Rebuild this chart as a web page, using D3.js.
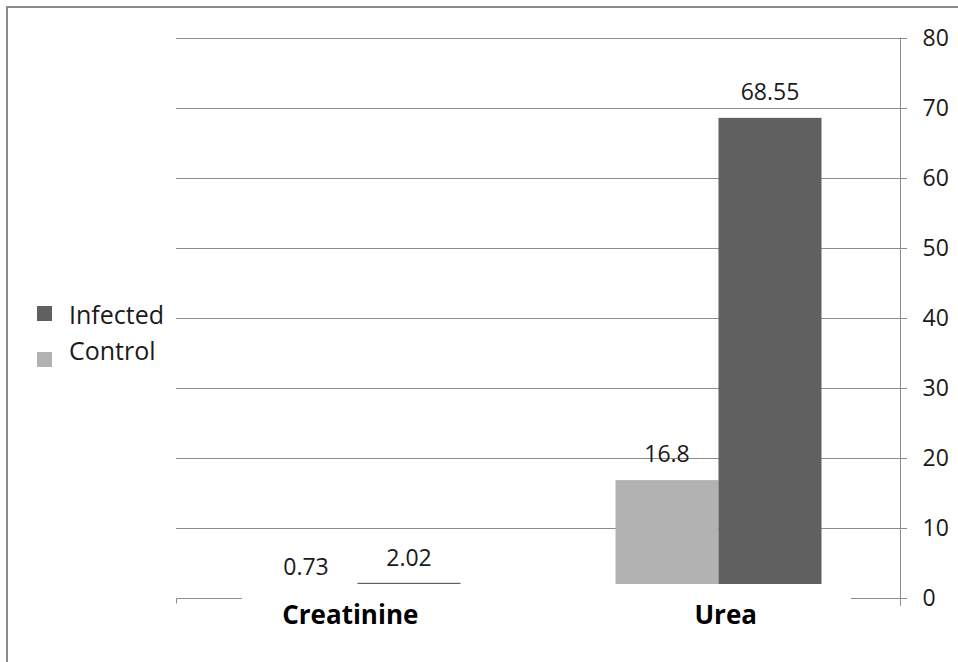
<!DOCTYPE html>
<html><head><meta charset="utf-8">
<script src="https://cdn.jsdelivr.net/npm/d3@7/dist/d3.min.js"></script>
<style>html,body{margin:0;padding:0;background:#fff;}svg{display:block;}</style>
</head><body>
<svg id="chart" width="958" height="662"></svg>
<script>
const categories = ["Creatinine", "Urea"];
const seriesNames = ["Control", "Infected"];
const controlValues = [0.73, 16.8];
const infectedValues = [2.02, 68.55];
const tickValues = [0, 10, 20, 30, 40, 50, 60, 70, 80];
const legendOrder = ["Infected", "Control"];

const colors = {Control: "#b2b2b2", Infected: "#606060"};
const font = "'Open Sans', 'DejaVu Sans', sans-serif";
const svg = d3.select("#chart");

// frame
svg.append("path").attr("d", "M7,662 L7,7 L958,7").attr("fill", "none")
  .attr("stroke", "#8a8a8a").attr("stroke-width", 2);

const y = d3.scaleLinear().domain([0, 80]).range([597.7, 37.7]);
const x0 = d3.scaleBand().domain(categories).range([176, 900]).paddingInner(0.4294).paddingOuter(0.2175);
const x1 = d3.scaleBand().domain(seriesNames).range([0, x0.bandwidth()]);
const floorY = 584;
const axisX = 900;
const gridColor = "#8c8c8c";

// gridlines (back wall)
const gridG = svg.append("g");
tickValues.filter(t => t > 0).forEach(t => {
  gridG.append("line").attr("x1", 176).attr("x2", axisX + 7)
    .attr("y1", Math.round(y(t)) + 0.5).attr("y2", Math.round(y(t)) + 0.5)
    .attr("stroke", gridColor).attr("stroke-width", 1);
});
// zero line pieces (floor edge)
const y0 = Math.round(y(0)) + 0.5;
gridG.append("path").attr("d", `M176.5,${y0 + 5} L176.5,${y0} L242,${y0}`)
  .attr("fill", "none").attr("stroke", gridColor);
gridG.append("line").attr("x1", 851).attr("x2", axisX + 7).attr("y1", y0).attr("y2", y0)
  .attr("stroke", gridColor);

// right axis
const axis = d3.axisRight(y).tickValues(tickValues).tickSize(0).tickPadding(22);
const axG = svg.append("g").attr("transform", `translate(${axisX + 0.5},0)`).call(axis);
axG.select(".domain").remove();
axG.append("line").attr("x1", 0).attr("x2", 0).attr("y1", y(80)).attr("y2", y(0) + 8)
  .attr("stroke", gridColor);
axG.selectAll(".tick text").attr("font-family", font).attr("font-size", 23)
  .attr("fill", "#1a1a1a");

// bars
const rows = categories.map((c, i) => ({cat: c, Control: controlValues[i], Infected: infectedValues[i]}));
const barG = svg.append("g");
rows.forEach(r => {
  seriesNames.forEach(s => {
    const v = r[s];
    const top = y(v);
    const bx = x0(r.cat) + x1(s);
    if (top < floorY) {
      const h = Math.max(floorY - top, 1.2);
      barG.append("rect").attr("x", bx).attr("y", floorY - h)
        .attr("width", x1.bandwidth()).attr("height", h).attr("fill", colors[s]);
    }
    barG.append("text").attr("x", bx + x1.bandwidth() / 2).attr("y", top - 27)
      .attr("text-anchor", "middle").attr("dominant-baseline", "central")
      .attr("font-family", font).attr("font-size", 23).attr("fill", "#1a1a1a")
      .text(v);
  });
});

// category labels (slight perspective offset)
categories.forEach(c => {
  const cx = x0(c) + x0.bandwidth() / 2;
  svg.append("text").attr("x", cx + (cx - 538) * 0.04).attr("y", 624)
    .attr("text-anchor", "middle").attr("font-family", font).attr("font-weight", "bold")
    .attr("font-size", 26).attr("fill", "#000").text(c);
});

// legend
const legend = svg.append("g");
const legendY = {Infected: 324, Control: 360};
const sqY = {Infected: 306, Control: 352};
legendOrder.forEach(s => {
  legend.append("rect").attr("x", 37).attr("y", sqY[s]).attr("width", 15).attr("height", 15)
    .attr("fill", colors[s]);
  legend.append("text").attr("x", 69).attr("y", legendY[s])
    .attr("font-family", font).attr("font-size", 25).attr("fill", "#1a1a1a").text(s);
});
</script>
</body></html>
